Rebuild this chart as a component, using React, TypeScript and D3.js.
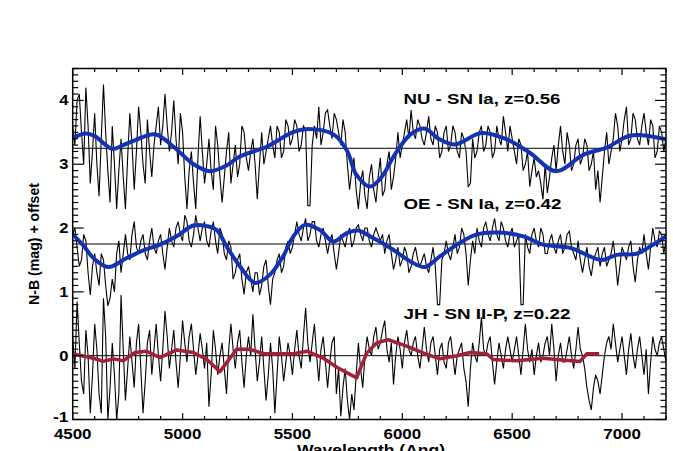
import React from 'react';
import * as d3 from 'd3';

const W = 673;
const H = 451;
const plotLeft = 72.7;
const plotRight = 666;
const plotTop = 68.5;
const plotBottom = 419.5;

const xDomain: [number, number] = [4500, 7200];
const yDomain: [number, number] = [-1, 4.5];
const xMajorTicks = [4500, 5000, 5500, 6000, 6500, 7000];
const xTickLabels = ['4500', '5000', '5500', '6000', '6500', '7000'];
const yMajorTicks = [-1, 0, 1, 2, 3, 4];
const yTickLabels = ['-1', '0', '1', '2', '3', '4'];
const xMinorStep = 100;
const yMinorStep = 0.1;

// observed spectra, sampled every 10 Angstrom from 4500 to 7200 (rows of 200 A)
const specStart = 4500;
const specStep = 10;

const nuFlux = [
  3.6, 3.3, 4.0, 4.1, 3.5, 3.0, 4.2, 3.6, 2.7, 3.2, 3.8, 3.0, 2.5, 3.4, 4.25, 3.5, 2.9, 2.4, 3.6, 3.0,
  2.3, 2.9, 3.4, 2.8, 2.3, 3.1, 3.8, 3.3, 2.6, 3.2, 3.9, 3.5, 3.0, 2.7, 3.7, 3.2, 2.8, 3.3, 3.6, 3.9,
  3.3, 3.6, 4.1, 3.6, 3.2, 3.5, 4.0, 3.4, 3.0, 3.8, 3.5, 2.8, 2.3, 2.9, 3.2, 2.7, 2.3, 3.1, 3.75, 3.2,
  2.7, 3.0, 3.4, 2.9, 2.6, 3.6, 3.3, 2.8, 2.4, 2.8, 3.2, 3.5, 2.7, 3.0, 3.3, 2.8, 3.0, 3.6, 3.5, 3.1,
  2.9, 3.2, 3.4, 3.0, 2.45, 3.0, 3.5, 3.0, 3.2, 3.4, 3.6, 3.3, 3.1, 3.6, 3.5, 3.1, 3.2, 3.7, 3.6, 3.3,
  3.4, 3.7, 3.6, 3.2, 3.3, 3.6, 3.55, 2.35, 2.35, 3.3, 3.6, 3.4, 3.9, 3.3, 3.5, 3.8, 3.85, 3.6, 3.4, 3.8,
  3.7, 3.5, 3.3, 3.7, 3.5, 3.0, 2.6, 2.9, 3.1, 2.6, 2.3, 2.7, 2.9, 2.5, 2.3, 2.8, 3.0, 2.6, 2.4, 2.8,
  3.1, 2.5, 2.6, 3.0, 3.2, 2.6, 2.8, 3.1, 3.5, 3.1, 3.3, 3.5, 3.7, 3.4, 3.85, 3.5, 3.4, 3.7, 3.6, 3.4,
  3.3, 3.5, 3.75, 3.4, 3.3, 3.6, 3.5, 3.1, 3.2, 3.5, 3.6, 3.2, 3.3, 3.6, 3.5, 3.2, 3.1, 3.5, 3.4, 3.2,
  2.65, 2.7, 3.4, 3.1, 3.2, 3.5, 3.6, 3.2, 3.3, 3.6, 3.5, 3.1, 3.2, 3.6, 3.4, 3.3, 3.75, 3.5, 3.2, 3.6,
  3.4, 3.2, 3.0, 3.4, 3.3, 2.9, 3.0, 3.2, 2.65, 2.9, 3.1, 2.8, 2.9, 2.7, 2.45, 3.0, 2.55, 2.8, 3.1, 3.3,
  2.9, 3.3, 3.6, 3.2, 3.0, 3.5, 3.3, 2.9, 3.0, 3.3, 3.4, 3.0, 3.1, 3.4, 3.3, 2.9, 3.0, 3.2, 2.6, 2.9,
  2.4, 2.8, 3.2, 3.5, 3.0, 3.2, 3.4, 3.8, 3.6, 3.2, 3.4, 3.7, 3.9, 3.3, 3.4, 3.8, 3.7, 3.4, 3.3, 3.6,
  3.8, 3.5, 3.3, 3.7, 3.6, 3.1, 3.2, 3.6, 3.5, 3.2, 3.4,
];

const oeFlux = [
  1.9, 2.0, 1.7, 1.4, 1.5, 1.9, 1.8, 1.3, 0.95, 1.4, 1.6, 1.3, 1.1, 1.6, 1.5, 1.1, 0.78, 0.9, 1.2, 1.0,
  1.6, 1.8, 1.3, 1.6, 1.9, 1.6, 1.5, 1.9, 2.1, 1.7, 1.6, 1.8, 1.9, 1.6, 1.5, 1.8, 2.0, 1.7, 1.6, 1.8,
  1.9, 1.6, 1.35, 1.7, 2.0, 1.8, 1.7, 2.0, 2.1, 1.9, 1.8, 2.2, 2.1, 1.8, 1.7, 1.9, 2.2, 2.0, 1.8, 2.0,
  2.1, 1.8, 1.7, 1.95, 2.1, 1.8, 1.6, 2.0, 1.9, 1.6, 1.5, 1.8, 1.7, 1.2, 1.3, 1.5, 1.6, 1.2, 0.96, 1.3,
  1.4, 1.2, 1.0, 1.3, 1.3, 0.95, 1.1, 1.4, 1.5, 1.1, 0.8, 1.2, 1.3, 1.5, 1.6, 1.3, 1.4, 1.7, 1.8, 1.6,
  1.7, 1.9, 2.1, 1.9, 1.8, 2.0, 2.15, 1.8, 1.9, 2.1, 2.1, 1.8, 1.7, 1.9, 2.0, 1.8, 1.6, 1.8, 1.9, 1.6,
  1.35, 1.6, 1.9, 1.8, 1.7, 1.9, 2.0, 1.7, 1.8, 2.0, 2.05, 1.9, 1.8, 2.0, 2.0, 1.8, 1.7, 1.9, 2.0, 1.9,
  1.8, 1.9, 1.6, 1.8, 1.9, 1.6, 1.35, 1.5, 1.7, 1.4, 1.5, 1.7, 1.6, 1.3, 1.4, 1.6, 1.7, 1.5, 1.4, 1.5,
  1.6, 1.4, 1.3, 1.5, 1.7, 1.4, 0.8, 0.8, 1.5, 1.6, 1.8, 1.6, 1.5, 1.7, 1.9, 1.6, 1.7, 2.0, 1.9, 1.6,
  1.1, 1.5, 1.8, 1.6, 2.0, 1.8, 1.7, 2.0, 2.1, 1.9, 1.8, 2.0, 2.15, 1.9, 1.8, 2.1, 2.0, 1.8, 1.7, 1.9,
  2.0, 1.7, 1.8, 1.9, 0.8, 0.8, 1.9, 1.7, 1.6, 1.9, 2.0, 1.8, 1.7, 2.0, 1.9, 1.6, 1.6, 1.8, 1.9, 1.7,
  1.6, 1.8, 1.9, 1.6, 1.7, 1.9, 1.95, 1.7, 1.6, 1.5, 1.8, 1.5, 1.3, 1.5, 1.7, 1.4, 1.25, 1.5, 1.6, 1.7,
  1.4, 1.6, 1.7, 1.4, 1.5, 1.6, 1.8, 1.5, 1.1, 1.4, 1.7, 1.6, 1.5, 1.7, 1.8, 1.4, 1.15, 1.5, 1.7, 1.6,
  1.9, 1.6, 1.35, 1.7, 2.0, 1.8, 1.7, 1.95, 1.9, 1.6, 1.8,
];

const jhFlux = [
  0.3, -0.2, 0.85, 0.2, -0.4, -0.6, 0.4, 0.0, -0.9, -0.3, 0.5, 0.1, -0.6, -0.9, 0.9, 0.3, -1.0, -0.5, 0.2, -0.3,
  -1.0, -0.6, 0.95, 0.1, -0.7, -0.2, 0.3, -0.1, -0.5, 0.2, 0.5, -0.2, -0.9, -0.4, 0.2, 0.4, -0.3, 0.1, 0.5, 0.0,
  -0.4, 0.1, 0.7, 0.3, -0.2, 0.1, 0.4, -0.1, -0.5, 0.0, 0.55, 0.2, -0.1, 0.3, 0.5, 0.1, -0.3, 0.0, 0.35, 0.1,
  -0.2, 0.2, -0.8, -0.3, 0.4, 0.1, -0.3, 0.0, 0.2, -0.2, -0.6, 0.1, 0.5, 0.1, -0.2, 0.2, 0.4, -0.1, -0.5, 0.0,
  0.3, 0.0, 0.65, 0.1, -0.4, -0.1, 0.3, -0.2, -0.7, -0.3, 0.2, -0.2, -0.9, -0.3, 0.3, 0.0, -0.4, -0.1, 0.2, 0.0,
  -0.3, 0.1, 0.4, 0.0, -0.2, 0.3, 0.75, 0.2, -0.1, 0.2, 0.5, 0.0, -0.4, 0.1, 0.3, -0.1, -0.5, -0.1, 0.2, 0.3,
  -0.6, -0.2, -0.95, -0.5, -0.2, -0.7, -1.0, -0.6, -0.85, -0.3, 0.2, -0.2, -0.5, 0.0, 0.3, 0.1, 0.0, 0.3, 0.45, 0.1,
  0.2, 0.4, 0.55, 0.1, -0.1, 0.2, -0.45, 0.0, 0.3, 0.1, -0.2, 0.2, 0.4, 0.1, 0.0, 0.2, 0.3, 0.0, -0.2, 0.1,
  0.45, 0.1, -0.1, 0.2, 0.3, 0.0, -0.3, 0.1, 0.2, -0.1, -0.2, 0.2, 0.3, 0.0, -0.3, 0.0, 0.1, 0.2, -0.2, -0.4,
  -0.8, -0.2, 0.2, 0.0, -0.1, 0.2, 0.6, 0.1, 0.0, 0.2, 0.3, -0.1, -0.45, -0.1, 0.2, 0.0, -0.2, 0.1, 0.3, 0.1,
  -0.1, 0.1, 0.3, 0.0, -0.3, 0.1, 0.5, 0.1, -0.1, 0.1, -0.3, 0.0, 0.2, -0.1, 0.0, 0.2, 0.3, 0.0, 0.5, 0.1,
  -0.4, 0.0, 0.2, -0.1, -0.1, 0.1, 0.3, 0.0, -0.2, 0.1, 0.45, 0.1, 0.0, -0.2, -0.5, -0.7, -0.85, -0.5, -0.3, -0.4,
  -0.6, -0.3, 0.0, 0.2, 0.3, 0.1, 0.5, 0.2, -0.1, 0.1, 0.3, 0.0, -0.3, 0.1, 0.35, 0.0, -0.2, 0.1, 0.3, 0.0,
  -0.3, 0.1, -0.6, -0.1, 0.3, 0.1, 0.0, 0.2, 0.3, 0.1, -0.1,
];

// template fits
const nuTplWave = [4500, 4560, 4600, 4680, 4730, 4780, 4875, 4960, 5050, 5125, 5200, 5260, 5380, 5500, 5565, 5690, 5750, 5790, 5853, 5910, 5960, 6035, 6100, 6170, 6240, 6360, 6475, 6580, 6700, 6825, 6930, 7040, 7200];
const nuTplFlux = [3.41, 3.48, 3.44, 3.24, 3.30, 3.37, 3.47, 3.27, 3.00, 2.89, 2.98, 3.12, 3.27, 3.50, 3.55, 3.46, 3.20, 2.84, 2.65, 2.82, 3.12, 3.46, 3.56, 3.39, 3.31, 3.49, 3.39, 3.18, 2.89, 3.15, 3.26, 3.45, 3.39];

const oeTplWave = [4500, 4550, 4594, 4662, 4746, 4821, 4897, 4973, 5049, 5110, 5155, 5201, 5261, 5330, 5398, 5458, 5504, 5557, 5625, 5686, 5747, 5800, 5853, 5959, 6035, 6103, 6172, 6263, 6339, 6430, 6551, 6641, 6763, 6907, 6976, 7067, 7127, 7200];
const oeTplFlux = [1.90, 1.72, 1.53, 1.39, 1.53, 1.65, 1.74, 1.87, 2.04, 2.03, 1.97, 1.71, 1.40, 1.14, 1.27, 1.56, 1.87, 2.05, 1.97, 1.79, 1.92, 1.96, 1.87, 1.66, 1.48, 1.39, 1.56, 1.77, 1.90, 1.93, 1.87, 1.74, 1.69, 1.50, 1.58, 1.60, 1.71, 1.87];

const jhTplWave = [4500, 4594, 4639, 4685, 4730, 4784, 4836, 4897, 4973, 5049, 5110, 5170, 5246, 5307, 5368, 5504, 5565, 5641, 5702, 5777, 5792, 5807, 5838, 5883, 5936, 6020, 6111, 6172, 6248, 6308, 6384, 6414, 6521, 6641, 6702, 6809, 6839, 6896];
const jhTplFlux = [0.03, -0.04, -0.09, -0.05, -0.08, 0.05, 0.07, -0.03, 0.09, 0.05, -0.06, -0.25, 0.10, 0.10, 0.03, 0.03, 0.07, -0.04, -0.18, -0.32, -0.35, -0.22, 0.04, 0.20, 0.25, 0.15, 0.02, -0.05, 0.0, 0.05, 0.03, -0.06, -0.08, -0.04, -0.06, -0.09, 0.03, 0.03];

const baselines = [3.25, 1.75, 0];
const spectrumLabels = ['NU - SN Ia, z=0.56', 'OE - SN Ia, z=0.42', 'JH - SN II-P, z=0.22'];
const xAxisTitle = 'Wavelength (Ang)';
const yAxisTitle = 'N-B (mag) + offset';

const BLUE = '#1433b4';
const RED = '#a3203a';
const FONT = "'Liberation Sans', Arial, Helvetica, sans-serif";

export default function App() {
  const x = d3.scaleLinear().domain(xDomain).range([plotLeft, plotRight]);
  const y = d3.scaleLinear().domain(yDomain).range([plotBottom, plotTop]);

  const toPts = (flux: number[]) => flux.map((v, i) => [specStart + i * specStep, v] as [number, number]);
  const pairs = (w: number[], f: number[]) => w.map((l, i) => [l, f[i]] as [number, number]);

  const rawLine = d3.line<[number, number]>().x(d => x(d[0])).y(d => y(d[1]));
  const smoothLine = d3.line<[number, number]>().x(d => x(d[0])).y(d => y(d[1])).curve(d3.curveCatmullRom.alpha(0.5));

  const xMinor = d3.range(xDomain[0], xDomain[1] + 1, xMinorStep);
  const yMinor = d3.range(0, Math.round((yDomain[1] - yDomain[0]) / yMinorStep) + 1).map(i => yDomain[0] + i * yMinorStep);

  const labelPos = [
    { x: 403.5, y: 104.3, len: 157 },
    { x: 403.5, y: 209, len: 158 },
    { x: 403.5, y: 319, len: 167 },
  ];

  return (
    <svg width={W} height={H} style={{ position: 'absolute', left: 0, top: 0, background: '#fff' }}>
      <defs>
        <clipPath id="plotClip">
          <rect x={plotLeft} y={plotTop} width={plotRight - plotLeft} height={plotBottom - plotTop} />
        </clipPath>
      </defs>
      <rect x={0} y={0} width={W} height={H} fill="#fff" />
      <g clipPath="url(#plotClip)">
        {baselines.map((b, i) => (
          <line key={'b' + i} x1={plotLeft} x2={plotRight} y1={y(b)} y2={y(b)} stroke="#000" strokeWidth={1} />
        ))}
        {[nuFlux, oeFlux, jhFlux].map((f, i) => (
          <path key={'s' + i} d={rawLine(toPts(f)) || ''} fill="none" stroke="#000" strokeWidth={1.1} strokeLinejoin="miter" />
        ))}
        <path d={smoothLine(pairs(nuTplWave, nuTplFlux)) || ''} fill="none" stroke={BLUE} strokeWidth={4} />
        <path d={smoothLine(pairs(oeTplWave, oeTplFlux)) || ''} fill="none" stroke={BLUE} strokeWidth={4} />
        <path d={rawLine(pairs(jhTplWave, jhTplFlux)) || ''} fill="none" stroke={RED} strokeWidth={3.5} strokeLinejoin="round" />
      </g>

      {/* frame */}
      <rect x={plotLeft} y={plotTop} width={plotRight - plotLeft} height={plotBottom - plotTop} fill="none" stroke="#000" strokeWidth={1.5} />

      {/* x ticks */}
      {xMinor.map((t, i) => {
        const major = xMajorTicks.includes(t);
        const len = major ? 6.5 : 3.5;
        return (
          <g key={'xt' + i}>
            <line x1={x(t)} x2={x(t)} y1={plotBottom} y2={plotBottom - len} stroke="#000" strokeWidth={1.2} />
            <line x1={x(t)} x2={x(t)} y1={plotTop} y2={plotTop + len} stroke="#000" strokeWidth={1.2} />
          </g>
        );
      })}
      {/* y ticks */}
      {yMinor.map((t, i) => {
        const major = yMajorTicks.some(m => Math.abs(m - t) < 1e-6);
        const len = major ? 11 : 5.5;
        return (
          <g key={'yt' + i}>
            <line x1={plotLeft} x2={plotLeft + len} y1={y(t)} y2={y(t)} stroke="#000" strokeWidth={1.2} />
            <line x1={plotRight} x2={plotRight - len} y1={y(t)} y2={y(t)} stroke="#000" strokeWidth={1.2} />
          </g>
        );
      })}

      {/* x tick labels */}
      {xMajorTicks.map((t, i) => (
        <text key={'xl' + i} x={x(t) - 18.8} y={438.5} fontFamily={FONT} fontWeight="bold" fontSize={14}
          textLength={37.6} lengthAdjust="spacingAndGlyphs">{xTickLabels[i]}</text>
      ))}
      {/* y tick labels */}
      {yMajorTicks.map((t, i) => {
        const len = yTickLabels[i].length === 1 ? 9.2 : 15.5;
        const lift = t === yDomain[0] ? 3 : 0;
        return (
          <text key={'yl' + i} x={68.5 - len} y={y(t) + 5 - lift} fontFamily={FONT} fontWeight="bold" fontSize={14}
            textLength={len} lengthAdjust="spacingAndGlyphs">{yTickLabels[i]}</text>
        );
      })}

      {/* spectrum labels */}
      {spectrumLabels.map((s, i) => (
        <text key={'lab' + i} x={labelPos[i].x} y={labelPos[i].y} fontFamily={FONT} fontWeight="bold" fontSize={15}
          textLength={labelPos[i].len} lengthAdjust="spacingAndGlyphs">{s}</text>
      ))}

      {/* axis titles */}
      <text x={371 - 74} y={454.5} fontFamily={FONT} fontWeight="bold" fontSize={14}
        textLength={148} lengthAdjust="spacingAndGlyphs">{xAxisTitle}</text>
      <text transform={`translate(39, ${244 + 61}) rotate(-90)`} fontFamily={FONT} fontWeight="bold" fontSize={15}
        textLength={122} lengthAdjust="spacingAndGlyphs">{yAxisTitle}</text>
    </svg>
  );
}
